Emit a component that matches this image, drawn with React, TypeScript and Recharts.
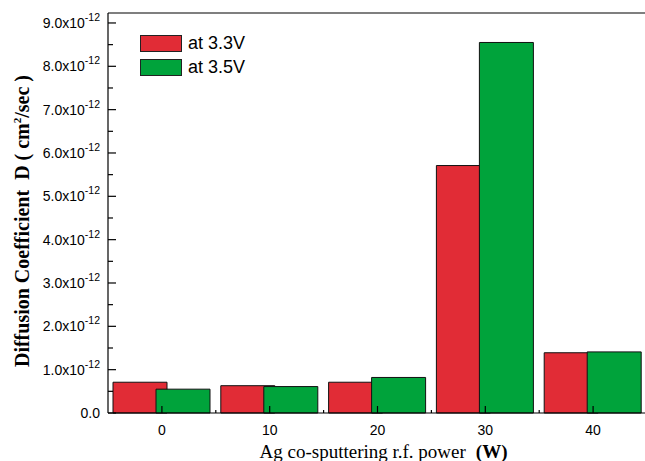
import { BarChart, Bar, XAxis, YAxis, ReferenceLine } from "recharts";

const powers = ["0", "10", "20", "30", "40"];
// diffusion coefficient, in units of 1e-12 cm^2/sec
const at33V = [0.71, 0.63, 0.71, 5.71, 1.39];
const at35V = [0.55, 0.61, 0.82, 8.55, 1.41];
const yTicks = [0, 0.5, 1, 1.5, 2, 2.5, 3, 3.5, 4, 4.5, 5, 5.5, 6, 6.5, 7, 7.5, 8, 8.5, 9];
const yMax = 9.23;

const seriesInfo = [
  { key: "v33", label: "at 3.3V", color: "#e12c36" },
  { key: "v35", label: "at 3.5V", color: "#00a33b" },
];

const data = powers.map((p, i) => ({ power: p, v33: at33V[i], v35: at35V[i] }));

const sans = "'Liberation Sans', Arial, sans-serif";
const serif = "'Liberation Serif', 'Times New Roman', serif";

const W = 660;
const H = 461;
const M = { top: 13, right: 13, bottom: 0, left: 0 };
const Y_W = 108;
const bandWidth = (W - M.left - M.right - Y_W) / powers.length;

function YTick({ x, y, payload }: any) {
  const v = payload.value;
  const major = Math.abs(v - Math.round(v)) < 1e-6;
  return (
    <g>
      <line x1={x} x2={x + (major ? 8 : 5)} y1={y} y2={y} stroke="#000" strokeWidth={1.2} />
      {major && (
        <text x={x - 8} y={y + 5} textAnchor="end" fontSize={14} fontFamily={sans} fill="#000">
          {v === 0 ? (
            "0.0"
          ) : (
            <>
              {v.toFixed(1)}x10
              <tspan dy={-7} fontSize={10.5}>-12</tspan>
            </>
          )}
        </text>
      )}
    </g>
  );
}

function XTick({ x, y, payload }: any) {
  return (
    <g>
      <line x1={x} x2={x} y1={y} y2={y - 7} stroke="#000" strokeWidth={1.2} />
      <line x1={x + bandWidth / 2} x2={x + bandWidth / 2} y1={y} y2={y - 3} stroke="#000" strokeWidth={1.2} />
      <text x={x} y={y + 22} textAnchor="middle" fontSize={14} fontFamily={sans} fill="#000">
        {payload.value}
      </text>
    </g>
  );
}

function XTitle({ viewBox }: any) {
  const cx = viewBox.x + viewBox.width / 2 + 6;
  return (
    <text x={cx} y={viewBox.y + 45} textAnchor="middle" fontSize={19} fontFamily={serif} fill="#000">
      Ag co-sputtering r.f. power
      <tspan dx={10} fontWeight="bold">(W)</tspan>
    </text>
  );
}

function YTitle({ viewBox }: any) {
  const cy = viewBox.y + viewBox.height / 2 + 8;
  const cx = 29;
  return (
    <text
      x={cx}
      y={cy}
      transform={`rotate(-90 ${cx} ${cy})`}
      textAnchor="middle"
      fontSize={20}
      fontWeight="bold"
      fontFamily={serif}
      fill="#000"
    >
      Diffusion Coefficient
      <tspan dx={10}>D ( cm</tspan>
      <tspan dy={-8} fontSize={11}>2</tspan>
      <tspan dy={8}>/sec )</tspan>
    </text>
  );
}

function LegendBox() {
  return (
    <div style={{ position: "absolute", left: 140, top: 31, fontFamily: sans, fontSize: 18, color: "#000" }}>
      {seriesInfo.map((s) => (
        <div key={s.key} style={{ display: "flex", alignItems: "center", height: 24 }}>
          <span
            style={{
              display: "inline-block",
              width: 40,
              height: 15,
              background: s.color,
              border: "1px solid #222",
              marginRight: 6,
            }}
          />
          <span>{s.label}</span>
        </div>
      ))}
    </div>
  );
}

export default function App() {
  return (
    <div style={{ position: "absolute", left: 0, top: 0, width: 645, height: 461, overflow: "hidden", background: "#fff" }}>
      <BarChart width={W} height={H} data={data} margin={M} barSize={54} barGap={-11}>
        <XAxis
          dataKey="power"
          height={48}
          interval={0}
          tickSize={0}
          tickMargin={0}
          tickLine={false}
          axisLine={{ stroke: "#000", strokeWidth: 1.2 }}
          tick={<XTick />}
          label={<XTitle />}
        />
        <YAxis
          type="number"
          domain={[0, yMax]}
          ticks={yTicks}
          interval={0}
          width={Y_W}
          tickSize={0}
          tickMargin={0}
          tickLine={false}
          axisLine={{ stroke: "#000", strokeWidth: 1.2 }}
          tick={<YTick />}
          label={<YTitle />}
        />
        <ReferenceLine y={yMax} stroke="#000" strokeWidth={1.2} />
        {seriesInfo.map((s) => (
          <Bar
            key={s.key}
            dataKey={s.key}
            name={s.label}
            fill={s.color}
            stroke="#111"
            strokeWidth={1}
            isAnimationActive={false}
          />
        ))}
      </BarChart>
      <LegendBox />
    </div>
  );
}
